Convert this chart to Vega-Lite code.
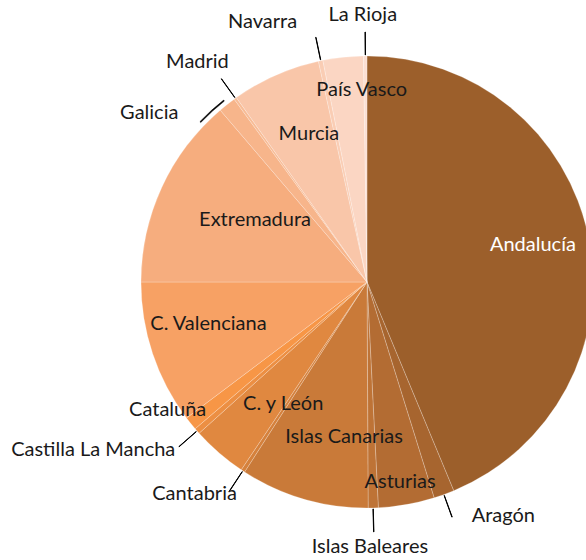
{
  "$schema": "https://vega.github.io/schema/vega-lite/v6.json",
  "width": 734,
  "height": 564,
  "autosize": {"type": "none"},
  "padding": {"left": 0, "top": 0, "right": -148, "bottom": -4},
  "background": "white",
  "config": {"view": {"stroke": null}, "text": {"font": "Lato", "fontSize": 20, "color": "#1a1a1a"}},
  "data": {"values": [
    {"region": "Andalucía", "value": 43.73},
    {"region": "Aragón", "value": 1.47},
    {"region": "Asturias", "value": 4.0},
    {"region": "Islas Baleares", "value": 0.72},
    {"region": "Islas Canarias", "value": 9.19},
    {"region": "Cantabria", "value": 0.28},
    {"region": "C. y León", "value": 3.94},
    {"region": "Castilla La Mancha", "value": 0.42},
    {"region": "Cataluña", "value": 0.97},
    {"region": "C. Valenciana", "value": 10.28},
    {"region": "Extremadura", "value": 13.75},
    {"region": "Galicia", "value": 1.25},
    {"region": "Madrid", "value": 0.19},
    {"region": "Murcia", "value": 6.36},
    {"region": "Navarra", "value": 0.32},
    {"region": "País Vasco", "value": 2.88},
    {"region": "La Rioja", "value": 0.25}
  ]},
  "transform": [
    {"window": [{"op": "row_number", "as": "n"}]},
    {"stack": "value", "groupby": [], "sort": [{"field": "n", "order": "ascending"}], "as": ["v0", "v1"]},
    {"calculate": "(datum.v0 + datum.v1) / 2", "as": "mid"},
    {"calculate": "datum.mid + 0.02", "as": "mid2"}
  ],
  "layer": [
    {
      "mark": {"type": "arc", "radius": 226, "stroke": "#ffffff", "strokeWidth": 0.5, "strokeOpacity": 0.45},
      "encoding": {
        "theta": {"field": "v0", "type": "quantitative", "stack": null, "scale": {"domain": [0, 100]}},
        "theta2": {"field": "v1"},
        "color": {
          "field": "region", "type": "nominal", "legend": null,
          "scale": {
            "domain": ["Andalucía", "Aragón", "Asturias", "Islas Baleares", "Islas Canarias", "Cantabria", "C. y León", "Castilla La Mancha", "Cataluña", "C. Valenciana", "Extremadura", "Galicia", "Madrid", "Murcia", "Navarra", "País Vasco", "La Rioja"],
            "range": ["#9C5F2B", "#A7652F", "#B36C33", "#BE7336", "#C97A39", "#D5813C", "#E08840", "#EC8F43", "#F79646", "#F7A164", "#F6AD7E", "#F7B58B", "#F8BC96", "#F9C6A9", "#FACDB4", "#FBD6C3", "#FCDFD2"]
          }
        }
      }
    },
    {
      "transform": [{"filter": {"field": "region", "oneOf": ["La Rioja", "Navarra", "Madrid", "Islas Baleares", "Aragón", "Castilla La Mancha", "Cantabria"]}}],
      "mark": {"type": "arc", "radius": 250, "radius2": 227, "fill": "#000000", "stroke": "#000000", "strokeWidth": 1},
      "encoding": {
        "theta": {"field": "mid", "type": "quantitative", "stack": null},
        "theta2": {"field": "mid2"}
      }
    },
    {
      "transform": [{"filter": "datum.region === 'Galicia'"}],
      "mark": {"type": "arc", "radius": 231.6, "radius2": 230.4, "fill": "#000000", "stroke": "#000000", "strokeWidth": 0.5, "theta2Offset": -0.1396},
      "encoding": {
        "theta": {"field": "mid", "type": "quantitative", "stack": null},
        "theta2": {"field": "mid2"}
      }
    },
    {
      "transform": [{"filter": "datum.region === 'Andalucía'"}],
      "mark": {"type": "text", "radius": 170, "thetaOffset": -0.0227, "color": "#ffffff"},
      "encoding": {"theta": {"field": "mid", "type": "quantitative", "stack": null}, "text": {"field": "region"}}
    },
    {
      "transform": [{"filter": "datum.region === 'País Vasco'"}],
      "mark": {"type": "text", "radius": 192, "thetaOffset": 0.0785},
      "encoding": {"theta": {"field": "mid", "type": "quantitative", "stack": null}, "text": {"field": "region"}}
    },
    {
      "transform": [{"filter": "datum.region === 'Murcia'"}],
      "mark": {"type": "text", "radius": 159, "thetaOffset": 0.0428},
      "encoding": {"theta": {"field": "mid", "type": "quantitative", "stack": null}, "text": {"field": "region"}}
    },
    {
      "transform": [{"filter": "datum.region === 'Extremadura'"}],
      "mark": {"type": "text", "radius": 128, "thetaOffset": 0.0742},
      "encoding": {"theta": {"field": "mid", "type": "quantitative", "stack": null}, "text": {"field": "region"}}
    },
    {
      "transform": [{"filter": "datum.region === 'C. Valenciana'"}],
      "mark": {"type": "text", "radius": 164, "thetaOffset": 0.0646},
      "encoding": {"theta": {"field": "mid", "type": "quantitative", "stack": null}, "text": {"field": "region"}}
    },
    {
      "transform": [{"filter": "datum.region === 'Cataluña'"}],
      "mark": {"type": "text", "radius": 237, "thetaOffset": 0.1047},
      "encoding": {"theta": {"field": "mid", "type": "quantitative", "stack": null}, "text": {"field": "region"}}
    },
    {
      "transform": [{"filter": "datum.region === 'C. y León'"}],
      "mark": {"type": "text", "radius": 148, "thetaOffset": -0.1117},
      "encoding": {"theta": {"field": "mid", "type": "quantitative", "stack": null}, "text": {"field": "region"}}
    },
    {
      "transform": [{"filter": "datum.region === 'Islas Canarias'"}],
      "mark": {"type": "text", "radius": 157, "thetaOffset": -0.137},
      "encoding": {"theta": {"field": "mid", "type": "quantitative", "stack": null}, "text": {"field": "region"}}
    },
    {
      "transform": [{"filter": "datum.region === 'Asturias'"}],
      "mark": {"type": "text", "radius": 203, "thetaOffset": 0.0122},
      "encoding": {"theta": {"field": "mid", "type": "quantitative", "stack": null}, "text": {"field": "region"}}
    },
    {
      "transform": [{"filter": "datum.region === 'Castilla La Mancha'"}],
      "mark": {"type": "text", "radius": 255, "align": "right"},
      "encoding": {"theta": {"field": "mid", "type": "quantitative", "stack": null}, "text": {"field": "region"}}
    },
    {
      "transform": [{"filter": "datum.region === 'Cantabria'"}],
      "mark": {"type": "text", "radius": 249, "thetaOffset": -0.0314, "align": "right"},
      "encoding": {"theta": {"field": "mid", "type": "quantitative", "stack": null}, "text": {"field": "region"}}
    },
    {
      "transform": [{"filter": "datum.region === 'Galicia'"}],
      "mark": {"type": "text", "radius": 253, "thetaOffset": -0.1737, "align": "right"},
      "encoding": {"theta": {"field": "mid", "type": "quantitative", "stack": null}, "text": {"field": "region"}}
    },
    {
      "transform": [{"filter": "datum.region === 'Madrid'"}],
      "mark": {"type": "text", "radius": 260, "thetaOffset": 0.062, "align": "right"},
      "encoding": {"theta": {"field": "mid", "type": "quantitative", "stack": null}, "text": {"field": "region"}}
    },
    {
      "transform": [{"filter": "datum.region === 'Navarra'"}],
      "mark": {"type": "text", "radius": 269, "thetaOffset": -0.0559, "align": "right"},
      "encoding": {"theta": {"field": "mid", "type": "quantitative", "stack": null}, "text": {"field": "region"}}
    },
    {
      "transform": [{"filter": "datum.region === 'Aragón'"}],
      "mark": {"type": "text", "radius": 256, "thetaOffset": -0.0733, "align": "left"},
      "encoding": {"theta": {"field": "mid", "type": "quantitative", "stack": null}, "text": {"field": "region"}}
    },
    {
      "transform": [{"filter": "datum.region === 'La Rioja'"}],
      "mark": {"type": "text", "radius": 267, "thetaOffset": -0.0079},
      "encoding": {"theta": {"field": "mid", "type": "quantitative", "stack": null}, "text": {"field": "region"}}
    },
    {
      "transform": [{"filter": "datum.region === 'Islas Baleares'"}],
      "mark": {"type": "text", "radius": 265, "thetaOffset": 0.0166},
      "encoding": {"theta": {"field": "mid", "type": "quantitative", "stack": null}, "text": {"field": "region"}}
    }
  ]
}
